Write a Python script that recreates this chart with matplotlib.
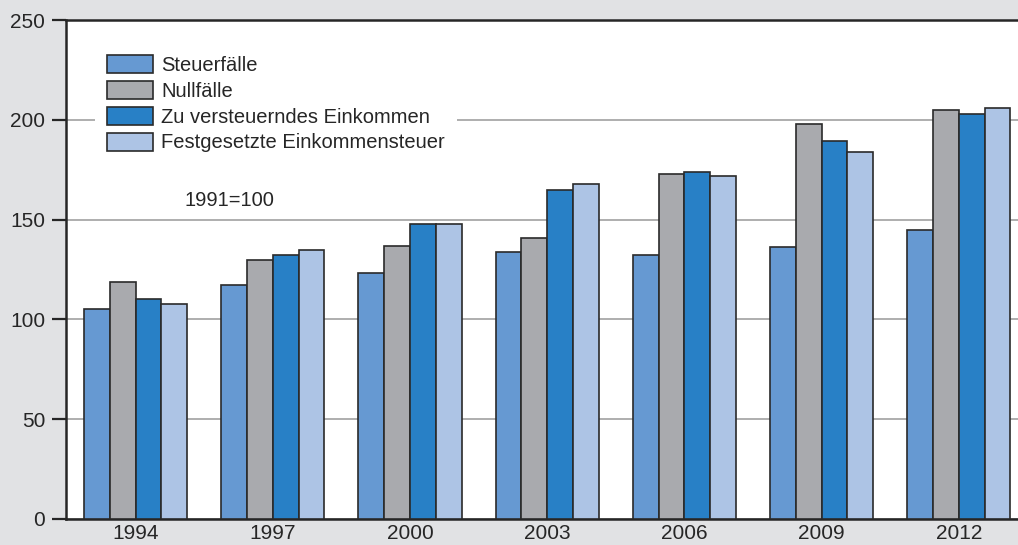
import matplotlib.pyplot as plt
from matplotlib.patches import Patch
import numpy as np

plt.rcParams['font.family'] = ['Liberation Sans', 'DejaVu Sans']

# data (index, 1991=100)
years = ['1994', '1997', '2000', '2003', '2006', '2009', '2012']
steuerfaelle = [105, 117, 123, 134, 132.5, 136.5, 145]
nullfaelle = [118.5, 130, 137, 141, 173, 198, 205]
zu_versteuern = [110, 132.5, 148, 165, 174, 189.5, 203]
festgesetzt = [107.5, 135, 148, 168, 172, 184, 206]

series_names = ['Steuerfälle', 'Nullfälle', 'Zu versteuerndes Einkommen',
                'Festgesetzte Einkommensteuer']
series_values = [steuerfaelle, nullfaelle, zu_versteuern, festgesetzt]
colors = ['#6699d2', '#a9aaae', '#2880c6', '#adc4e5']

bg = '#e1e2e4'
W, H = 1018, 545

fig = plt.figure(figsize=(W / 100, H / 100), dpi=100, facecolor=bg)
ax = fig.add_axes([66 / W, (H - 519) / H, 1 - 66 / W, (519 - 20) / H])
ax.set_facecolor('white')

x = np.arange(len(years))
bar_w = 0.188
for i, (vals, col) in enumerate(zip(series_values, colors)):
    offs = (i - 1.5) * bar_w
    ax.bar(x + offs, vals, width=bar_w, color=col, edgecolor='#2a2a2a',
           linewidth=1.2, zorder=3)

ax.set_ylim(0, 250)
ax.set_xlim(-0.507, -0.507 + 952 / 137.2)
ax.set_yticks([0, 50, 100, 150, 200, 250])
ax.set_xticks(x)
ax.set_xticklabels(years)

ax.yaxis.grid(True, color='#a8a8a8', linewidth=1.3, zorder=1)
ax.set_axisbelow(True)

ax.spines['right'].set_visible(False)
for side in ['left', 'top', 'bottom']:
    ax.spines[side].set_color('#262626')
    ax.spines[side].set_linewidth(1.8)

tick_fs = 15
ax.tick_params(axis='y', length=10, width=1.6, color='#262626', pad=5,
               labelsize=tick_fs, labelcolor='#262626')
ax.tick_params(axis='x', length=0, pad=3.5, labelsize=tick_fs, labelcolor='#262626')

fs = 14.5
fpx = fs * 100 / 72
handles = [Patch(facecolor=c, edgecolor='#2a2a2a', linewidth=1.2) for c in colors]
leg = fig.legend(handles, series_names, loc='upper left',
                 bbox_to_anchor=(95 / W, 1 - 43 / H), fontsize=fs,
                 frameon=True, fancybox=False, framealpha=1,
                 facecolor='white', edgecolor='none',
                 handlelength=46 / fpx, handleheight=20 / fpx,
                 handletextpad=8 / fpx, labelspacing=6 / fpx,
                 borderpad=12 / fpx, borderaxespad=0)
for t in leg.get_texts():
    t.set_color('#262626')

fig.text(184 / W, 1 - 206 / H, '1991=100', fontsize=fs, color='#262626',
         va='baseline', ha='left')

fig.savefig('out.png', dpi=100, facecolor=bg)
